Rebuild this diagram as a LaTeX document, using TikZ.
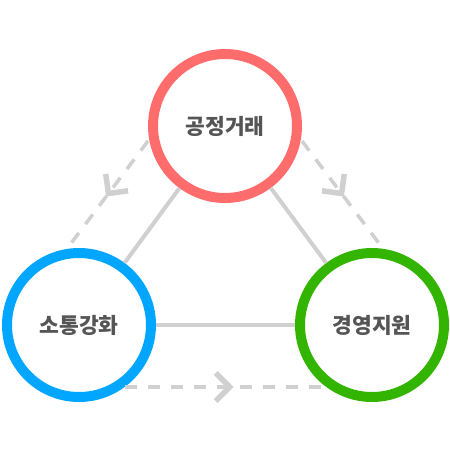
\documentclass[tikz,border=0pt]{standalone}
\usepackage{fontspec}
\newfontfamily\krfont{Noto Sans CJK KR}
\usetikzlibrary{arrows.meta, decorations.markings}

\definecolor{fairred}{RGB}{255,108,108}
\definecolor{talkblue}{RGB}{0,166,255}
\definecolor{helpgreen}{RGB}{51,181,0}
\definecolor{linegray}{RGB}{208,208,208}
\definecolor{textgray}{RGB}{85,85,85}

\begin{document}
\begin{tikzpicture}[x=1pt, y=-1pt,
		goal/.style={circle, draw, fill=white, line width=10pt, minimum size=144pt, inner sep=0pt, text=textgray, font=\krfont\bfseries\fontsize{21.5}{22}\selectfont},
		link/.style={draw=linegray, line width=4pt},
		flow/.style={draw=linegray, line width=3.5pt, dash pattern=on 12pt off 11pt, postaction={decorate},
			decoration={markings, mark=at position #1 with {\arrow{Straight Barb[length=14pt, width=28pt, line width=5.5pt]}}}}]
		
		\useasboundingbox (0,0) rectangle (450,450);
		
		% Kreise
		\node[goal, draw=fairred] (fair) at (225, 126) {공정거래};
		\node[goal, draw=talkblue] (talk) at (79, 325) {소통강화};
		\node[goal, draw=helpgreen] (help) at (372, 325) {경영지원};
		
		% Verbindungen
		\draw[link] (fair) -- (talk);
		\draw[link] (fair) -- (help);
		\draw[link] (talk) -- (help);
		
		% Endpunkte der Pfeillinien
		\coordinate (l1) at (148, 141);
		\coordinate (l2) at (69, 246);
		\coordinate (r1) at (302, 141);
		\coordinate (r2) at (381, 246);
		\coordinate (b1) at (125, 387);
		\coordinate (b2) at (326, 387);
		
		% Pfeillinien
		\draw[flow=0.53] (l1) -- (l2);
		\draw[flow=0.53] (r1) -- (r2);
		\draw[flow=0.54] (b1) -- (b2);
		
	\end{tikzpicture}
\end{document}
